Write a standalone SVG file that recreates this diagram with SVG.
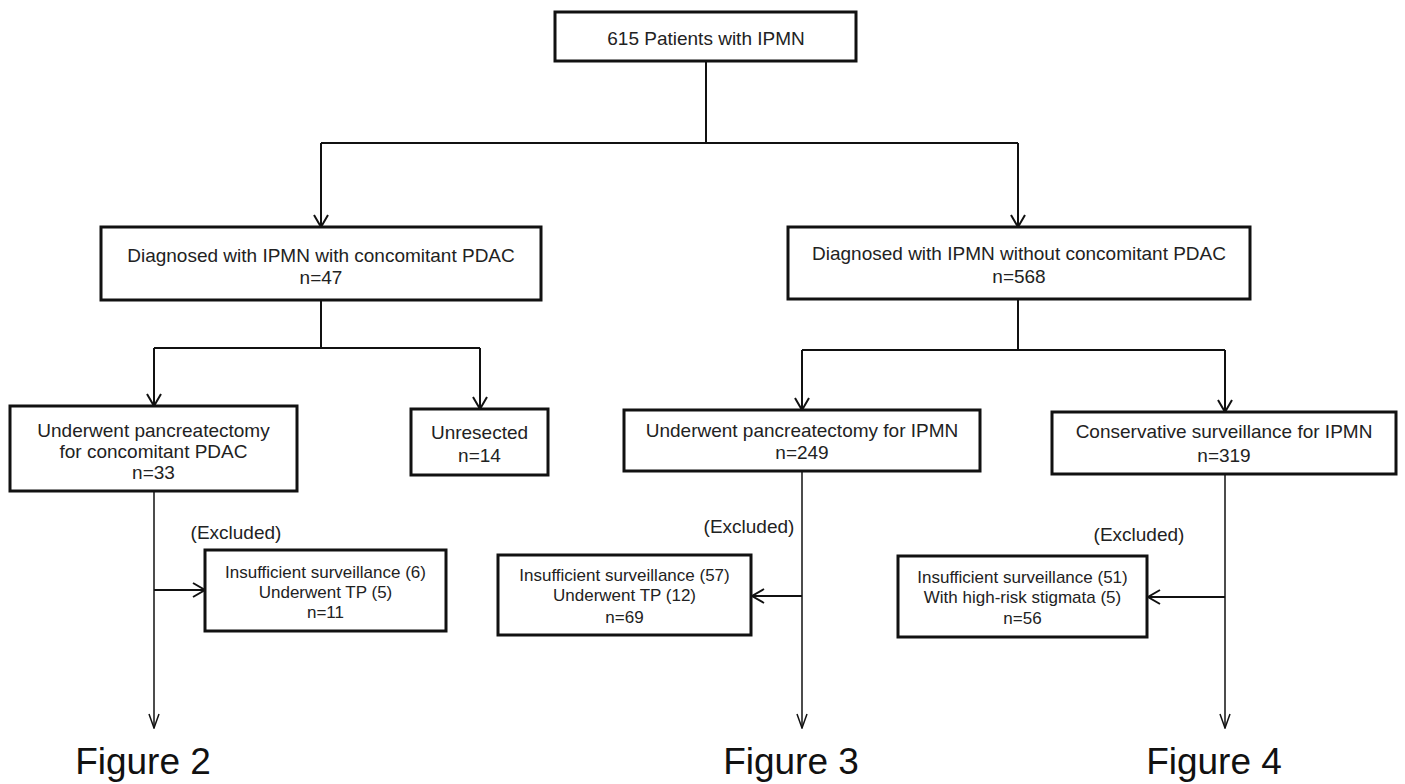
<svg xmlns="http://www.w3.org/2000/svg" width="1405" height="784" viewBox="0 0 1405 784">
<defs>
<style>
.box{fill:#fff;stroke:#111;stroke-width:3}
.t{font-family:"Liberation Sans",Arial,sans-serif;font-size:19px;fill:#222;text-anchor:middle}
.s{font-family:"Liberation Sans",Arial,sans-serif;font-size:17px;fill:#222;text-anchor:middle}
.fig{font-family:"Liberation Sans",Arial,sans-serif;font-size:37px;fill:#111;text-anchor:middle}
.c{fill:none;stroke:#111;stroke-width:2}
.a{fill:none;stroke:#111;stroke-width:2;marker-end:url(#arr)}
.b{fill:none;stroke:#111;stroke-width:1.5;marker-end:url(#arr2)}
</style>
<marker id="arr" markerUnits="userSpaceOnUse" markerWidth="16" markerHeight="18" refX="14" refY="9" orient="auto">
<path d="M2,2 L14,9 L2,16" fill="none" stroke="#111" stroke-width="2"/>
</marker>
<marker id="arr2" markerUnits="userSpaceOnUse" markerWidth="16" markerHeight="14" refX="15" refY="7" orient="auto">
<path d="M1,2 L15,7 L1,12" fill="none" stroke="#111" stroke-width="1.5"/>
</marker>
</defs>
<rect width="1405" height="784" fill="#fff"/>
<g id="connectors">
<path class="c" d="M706,61 V143 M321,143 H1018"/>
<path class="a" d="M321,143 V227"/>
<path class="a" d="M1018,143 V227"/>
<path class="c" d="M321,300 V348 M154,348 H480"/>
<path class="a" d="M154,348 V406"/>
<path class="a" d="M480,348 V409"/>
<path class="c" d="M1018,299 V350 M802,350 H1225"/>
<path class="a" d="M802,350 V410"/>
<path class="a" d="M1225,350 V412"/>
<path class="b" d="M154,491 V728"/>
<path class="a" d="M154,590 H205"/>
<path class="b" d="M802,471 V728"/>
<path class="a" d="M802,596 H752"/>
<path class="b" d="M1225,474 V728"/>
<path class="a" d="M1225,597 H1148"/>
</g>
<g id="n-root">
<rect class="box" x="555" y="12" width="301" height="49"/>
<text class="t" x="706" y="45">615 Patients with IPMN</text>
</g>
<g id="n-with-pdac">
<rect class="box" x="101" y="227" width="440" height="73"/>
<text class="t" x="321" y="262">Diagnosed with IPMN with concomitant PDAC</text>
<text class="t" x="321" y="284">n=47</text>
</g>
<g id="n-without-pdac">
<rect class="box" x="788" y="227" width="462" height="72"/>
<text class="t" x="1019" y="260">Diagnosed with IPMN without concomitant PDAC</text>
<text class="t" x="1019" y="283">n=568</text>
</g>
<g id="n-resected-pdac">
<rect class="box" x="10" y="406" width="287" height="85"/>
<text class="t" x="153.5" y="437">Underwent pancreatectomy</text>
<text class="t" x="153.5" y="458">for concomitant PDAC</text>
<text class="t" x="153.5" y="479">n=33</text>
</g>
<g id="n-unresected">
<rect class="box" x="411" y="409" width="137" height="66"/>
<text class="t" x="479.5" y="439">Unresected</text>
<text class="t" x="479.5" y="462">n=14</text>
</g>
<g id="n-resected-ipmn">
<rect class="box" x="624" y="410" width="356" height="61"/>
<text class="t" x="802" y="437">Underwent pancreatectomy for IPMN</text>
<text class="t" x="802" y="459">n=249</text>
</g>
<g id="n-surveillance">
<rect class="box" x="1052" y="412" width="344" height="62"/>
<text class="t" x="1224" y="438">Conservative surveillance for IPMN</text>
<text class="t" x="1224" y="462">n=319</text>
</g>
<g id="n-excl-1">
<text class="t" x="236" y="539">(Excluded)</text>
<rect class="box" x="205" y="550" width="241" height="81"/>
<text class="s" x="325.5" y="578">Insufficient surveillance (6)</text>
<text class="s" x="325.5" y="598">Underwent TP (5)</text>
<text class="s" x="325.5" y="618">n=11</text>
</g>
<g id="n-excl-2">
<text class="t" x="749" y="533">(Excluded)</text>
<rect class="box" x="498" y="555" width="253" height="80"/>
<text class="s" x="624.5" y="581">Insufficient surveillance (57)</text>
<text class="s" x="624.5" y="601">Underwent TP (12)</text>
<text class="s" x="624.5" y="623">n=69</text>
</g>
<g id="n-excl-3">
<text class="t" x="1139" y="541">(Excluded)</text>
<rect class="box" x="898" y="556" width="249" height="81"/>
<text class="s" x="1022.5" y="583">Insufficient surveillance (51)</text>
<text class="s" x="1022.5" y="603">With high-risk stigmata (5)</text>
<text class="s" x="1022.5" y="624">n=56</text>
</g>
<g id="n-fig2"><text class="fig" x="143" y="774">Figure 2</text></g>
<g id="n-fig3"><text class="fig" x="791" y="774">Figure 3</text></g>
<g id="n-fig4"><text class="fig" x="1214" y="774">Figure 4</text></g>
</svg>
